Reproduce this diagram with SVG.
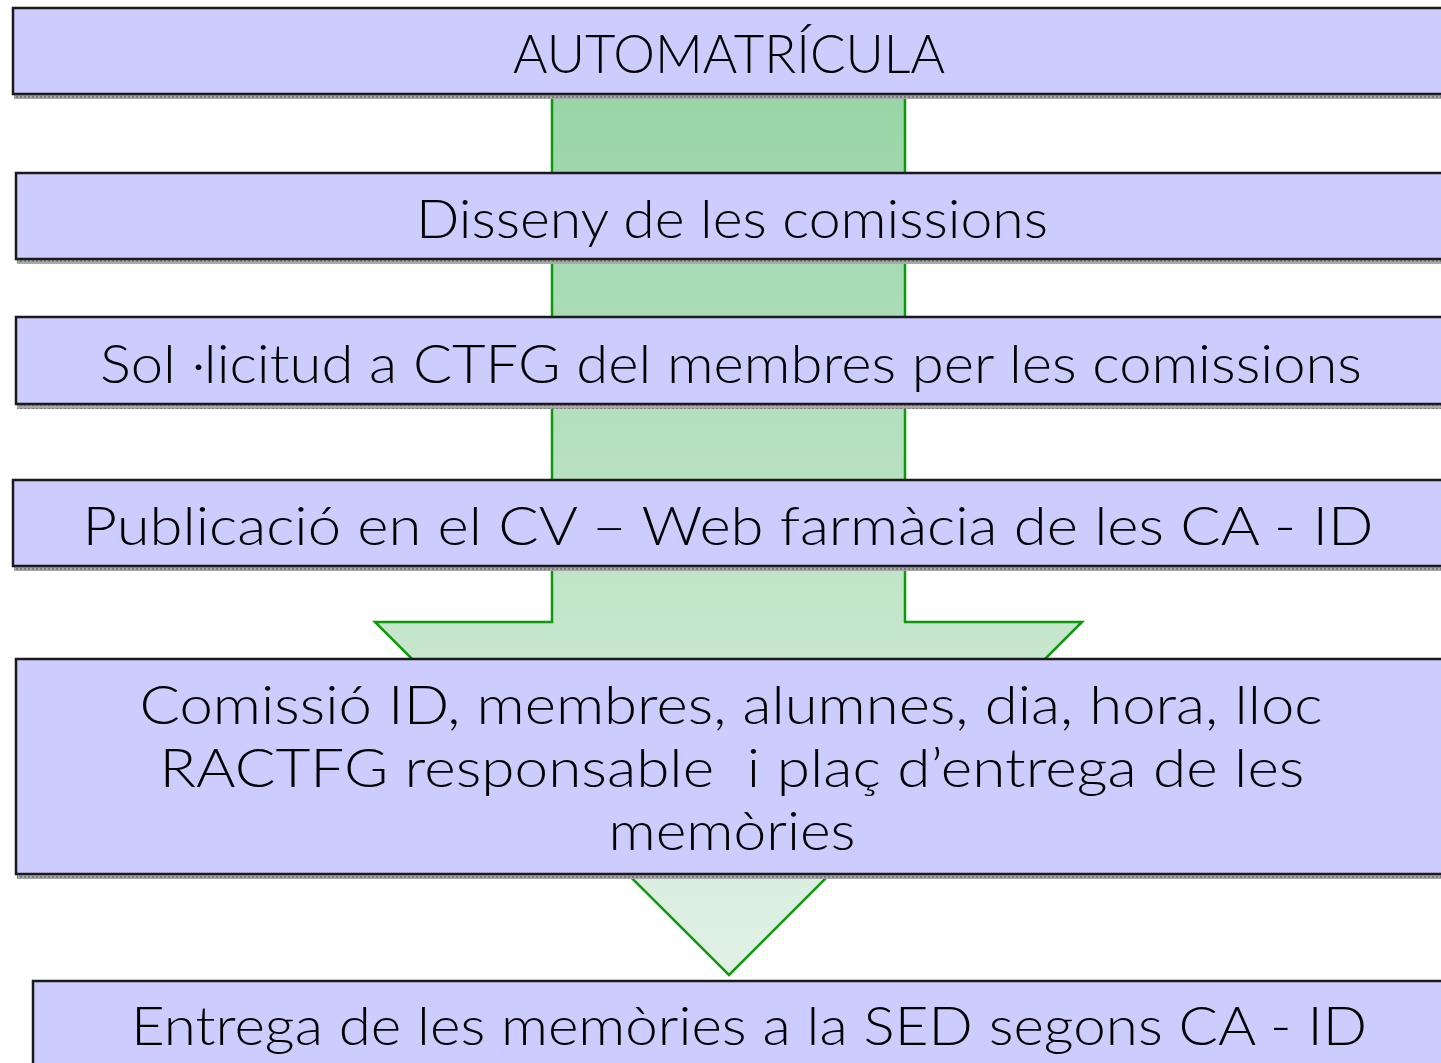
<svg xmlns="http://www.w3.org/2000/svg" width="1441" height="1063" viewBox="0 0 1441 1063">
<style>
.box{fill:#ccccff;stroke:#1a1a1a;stroke-width:2.5}
.shadow{fill:url(#dots)}
.t{font-family:"Lato","DejaVu Sans",sans-serif;font-weight:300;font-size:54px;fill:#000;text-anchor:middle;white-space:pre}
</style>
<defs>
<linearGradient id="g" gradientUnits="userSpaceOnUse" x1="0" y1="95" x2="0" y2="975">
<stop offset="0" stop-color="#98d5a6"/>
<stop offset="1" stop-color="#e2f1e6"/>
</linearGradient>
<pattern id="dots" width="4" height="4" patternUnits="userSpaceOnUse">
<rect width="4" height="4" fill="#a8a8a8"/>
<rect width="2" height="2" fill="#7c7c7c"/>
</pattern>
</defs>
<g id="connectors">
<path d="M552,95 L905,95 L905,622 L1082,622 L729,975 L375,622 L552,622 Z" fill="url(#g)" stroke="#0c9a0c" stroke-width="2.5"/>
</g>
<g id="n1">
<rect class="shadow" x="14" y="95" width="1440" height="4"/>
<rect class="box" x="13" y="8" width="1450" height="86"/>
<text class="t" x="729" y="73" textLength="432" lengthAdjust="spacingAndGlyphs">AUTOMATRÍCULA</text>
</g>
<g id="n2">
<rect class="shadow" x="17" y="260" width="1440" height="4"/>
<rect class="box" x="16" y="173" width="1450" height="86"/>
<text class="t" x="732" y="238" textLength="632" lengthAdjust="spacingAndGlyphs">Disseny de les comissions</text>
</g>
<g id="n3">
<rect class="shadow" x="17" y="405" width="1440" height="4"/>
<rect class="box" x="16" y="317" width="1450" height="87"/>
<text class="t" x="731" y="383" textLength="1262" lengthAdjust="spacingAndGlyphs">Sol ·licitud a CTFG del membres per les comissions</text>
</g>
<g id="n4">
<rect class="shadow" x="14" y="567" width="1440" height="4"/>
<rect class="box" x="13" y="480" width="1450" height="86"/>
<text class="t" x="728" y="545" textLength="1291" lengthAdjust="spacingAndGlyphs">Publicació en el CV – Web farmàcia de les CA - ID</text>
</g>
<g id="n5">
<rect class="shadow" x="17" y="875" width="1440" height="4"/>
<rect class="box" x="16" y="659" width="1450" height="215"/>
<text class="t" x="731" y="724" textLength="1183" lengthAdjust="spacingAndGlyphs">Comissió ID, membres, alumnes, dia, hora, lloc</text>
<text class="t" x="732" y="787" textLength="1145" lengthAdjust="spacingAndGlyphs">RACTFG responsable  i plaç d’entrega de les</text>
<text class="t" x="732" y="850" textLength="247" lengthAdjust="spacingAndGlyphs">memòries</text>
</g>
<g id="n6">
<rect class="box" x="33" y="981" width="1450" height="120"/>
<text class="t" x="749" y="1045" textLength="1236" lengthAdjust="spacingAndGlyphs">Entrega de les memòries a la SED segons CA - ID</text>
</g>
</svg>
